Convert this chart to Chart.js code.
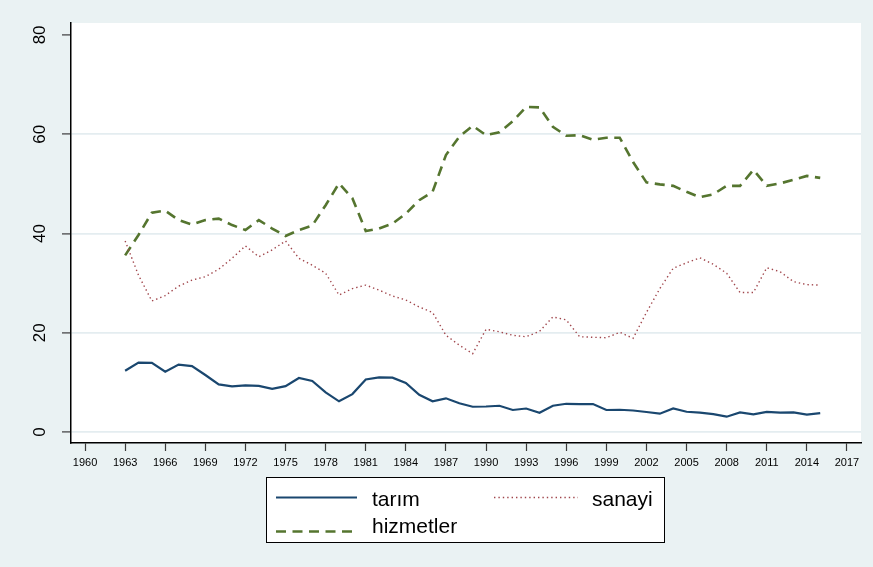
<!DOCTYPE html>
<html>
<head>
<meta charset="utf-8">
<script src="https://cdn.jsdelivr.net/npm/chart.js@4.4.1/dist/chart.umd.min.js"></script>
<style>
  html, body { margin: 0; padding: 0; background: #eaf2f3; }
  #wrap { width: 873px; height: 567px; }
</style>
</head>
<body>
<div id="wrap"><canvas id="chart" width="873" height="567"></canvas></div>
<script>
const years = [
  1963, 1964, 1965, 1966, 1967, 1968, 1969, 1970, 1971, 1972,
  1973, 1974, 1975, 1976, 1977, 1978, 1979, 1980, 1981, 1982,
  1983, 1984, 1985, 1986, 1987, 1988, 1989, 1990, 1991, 1992,
  1993, 1994, 1995, 1996, 1997, 1998, 1999, 2000, 2001, 2002,
  2003, 2004, 2005, 2006, 2007, 2008, 2009, 2010, 2011, 2012,
  2013, 2014, 2015,
];

const tarim = [
  12.35, 14.0, 13.95, 12.15, 13.6, 13.3, 11.5, 9.6, 9.2, 9.4,
  9.3, 8.7, 9.25, 10.9, 10.3, 8.0, 6.2, 7.65, 10.6, 11.0,
  10.95, 9.9, 7.5, 6.2, 6.8, 5.8, 5.1, 5.15, 5.3, 4.45,
  4.75, 3.9, 5.3, 5.7, 5.65, 5.65, 4.45, 4.5, 4.35, 4.05,
  3.7, 4.75, 4.1, 3.9, 3.6, 3.1, 3.95, 3.55, 4.05, 3.9,
  3.95, 3.5, 3.8,
];

const sanayi = [
  38.5, 31.6, 26.4, 27.5, 29.4, 30.6, 31.3, 32.8, 35.0, 37.5,
  35.3, 36.7, 38.5, 35.0, 33.6, 32.0, 27.6, 28.9, 29.6, 28.6,
  27.4, 26.6, 25.2, 24.1, 19.5, 17.5, 15.8, 20.7, 20.2, 19.5,
  19.2, 20.3, 23.2, 22.6, 19.2, 19.1, 19.0, 20.1, 18.9, 24.1,
  28.9, 33.0, 34.1, 35.1, 33.8, 32.0, 28.1, 28.1, 33.1, 32.3,
  30.3, 29.7, 29.6,
];

const hizmetler = [
  35.6, 39.7, 44.2, 44.6, 42.7, 41.8, 42.7, 43.0, 41.7, 40.7,
  42.7, 41.0, 39.5, 40.7, 41.6, 45.7, 50.1, 47.1, 40.5, 41.0,
  42.0, 44.0, 46.7, 48.4, 55.8, 59.5, 61.7, 59.8, 60.4, 62.6,
  65.5, 65.4, 61.5, 59.7, 59.8, 58.9, 59.3, 59.3, 54.4, 50.3,
  49.9, 49.6, 48.4, 47.3, 47.9, 49.6, 49.6, 52.8, 49.6, 50.1,
  50.8, 51.6, 51.2,
];

const xTicks = [1960, 1963, 1966, 1969, 1972, 1975, 1978, 1981, 1984, 1987,
  1990, 1993, 1996, 1999, 2002, 2005, 2008, 2011, 2014, 2017];
const yTicks = [0, 20, 40, 60, 80];

const FONT = '"Liberation Sans", Arial, sans-serif';
const BG = '#eaf2f3';

const toPoints = (vals) => vals.map((v, i) => ({ x: years[i], y: v }));

// page background + white plot region
const backdrop = {
  id: 'backdrop',
  beforeDraw(chart) {
    const { ctx, chartArea: a } = chart;
    ctx.save();
    ctx.fillStyle = BG;
    ctx.fillRect(0, 0, chart.width, chart.height);
    ctx.fillStyle = '#ffffff';
    ctx.fillRect(a.left, a.top, a.right - a.left, a.bottom - a.top);
    ctx.restore();
  },
};

// y labels are rotated like Stata draws them
const yLabels = {
  id: 'yLabels',
  afterDraw(chart) {
    const { ctx } = chart;
    const y = chart.scales.y;
    ctx.save();
    ctx.fillStyle = '#000';
    ctx.font = `17px ${FONT}`;
    ctx.textAlign = 'center';
    ctx.textBaseline = 'middle';
    for (const v of yTicks) {
      const py = y.getPixelForValue(v);
      ctx.save();
      ctx.translate(40, py);
      ctx.rotate(-Math.PI / 2);
      ctx.fillText(String(v), 0, 0);
      ctx.restore();
    }
    ctx.restore();
  },
};

// boxed legend, two columns
const boxLegend = {
  id: 'boxLegend',
  afterDraw(chart, args, opts) {
    const { ctx } = chart;
    const b = opts.box;
    ctx.save();
    ctx.fillStyle = '#fff';
    ctx.fillRect(b.x, b.y, b.w, b.h);
    ctx.strokeStyle = '#000';
    ctx.lineWidth = 1;
    ctx.strokeRect(b.x + 0.5, b.y + 0.5, b.w, b.h);
    ctx.font = `21px ${FONT}`;
    ctx.textBaseline = 'alphabetic';
    ctx.fillStyle = '#000';
    opts.items.forEach((it) => {
      const ds = chart.data.datasets[it.index];
      ctx.save();
      ctx.strokeStyle = ds.borderColor;
      ctx.lineWidth = ds.borderWidth;
      ctx.setLineDash(ds.borderDash || []);
      ctx.beginPath();
      ctx.moveTo(it.x0, it.ly);
      ctx.lineTo(it.x1, it.ly);
      ctx.stroke();
      ctx.restore();
      ctx.fillText(ds.label, it.tx, it.ty);
    });
    ctx.restore();
  },
};

new Chart(document.getElementById('chart'), {
  type: 'line',
  data: {
    datasets: [
      { label: 'tarım', data: toPoints(tarim), borderColor: '#1a476f', borderWidth: 2.2 },
      { label: 'sanayi', data: toPoints(sanayi), borderColor: '#a0454b', borderWidth: 1.4, borderDash: [1.4, 3] },
      { label: 'hizmetler', data: toPoints(hizmetler), borderColor: '#55752f', borderWidth: 2.6, borderDash: [10, 6.5] },
    ],
  },
  options: {
    responsive: false,
    animation: false,
    parsing: false,
    elements: { point: { radius: 0 }, line: { tension: 0 } },
    layout: { padding: { top: 23, right: 12, left: 0, bottom: 0 } },
    plugins: {
      legend: { display: false },
      tooltip: { enabled: false },
      boxLegend: {
        box: { x: 266, y: 477, w: 398, h: 65 },
        items: [
          { index: 0, x0: 276, x1: 357, ly: 497.5, tx: 372, ty: 506 },
          { index: 1, x0: 494, x1: 578, ly: 497.5, tx: 592, ty: 506 },
          { index: 2, x0: 276, x1: 357, ly: 531.5, tx: 372, ty: 532.5 },
        ],
      },
    },
    scales: {
      x: {
        type: 'linear',
        min: 1958.95,
        max: 2018.05,
        afterBuildTicks: (s) => { s.ticks = xTicks.map((v) => ({ value: v })); },
        afterFit: (s) => { s.height = 124; },
        ticks: {
          autoSkip: false,
          maxRotation: 0,
          padding: 5,
          color: '#000',
          font: { family: FONT, size: 11 },
          callback: (v) => String(v),
        },
        grid: { drawOnChartArea: false, drawTicks: true, tickLength: 8, tickColor: '#3a3a3a', tickWidth: 1.2 },
        border: { display: true, color: '#000', width: 1.5 },
      },
      y: {
        min: -2.2,
        max: 82.4,
        afterBuildTicks: (s) => { s.ticks = yTicks.map((v) => ({ value: v })); },
        afterFit: (s) => { s.width = 71; },
        ticks: { display: false },
        grid: {
          color: (c) => (c.tick && c.tick.value === 80 ? 'rgba(0,0,0,0)' : '#e4edf0'),
          lineWidth: 1.8,
          drawTicks: true,
          tickLength: 9,
          tickColor: '#3a3a3a',
          tickWidth: 1.2,
        },
        border: { display: true, color: '#000', width: 1.5 },
      },
    },
  },
  plugins: [backdrop, yLabels, boxLegend],
});
</script>
</body>
</html>
